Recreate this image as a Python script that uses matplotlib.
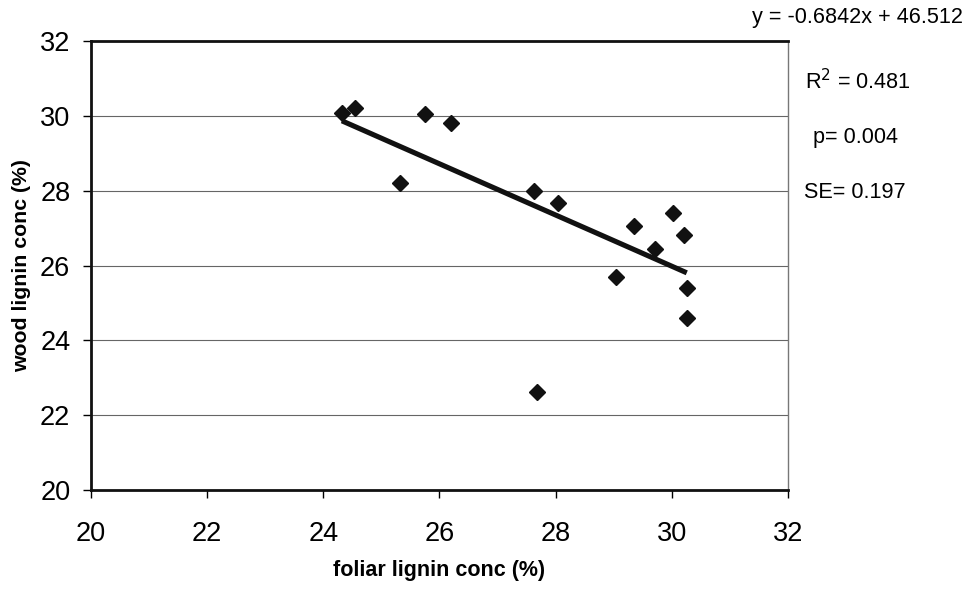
import numpy as np
import matplotlib.pyplot as plt

plt.rcParams['font.family'] = ['Liberation Sans', 'DejaVu Sans']

# foliar vs wood lignin concentration (%)
foliar = [24.32, 24.55, 25.32, 25.75, 26.2, 27.63, 28.04, 27.68,
          29.35, 30.03, 30.22, 29.72, 29.04, 30.26, 30.26]
wood = [30.07, 30.21, 28.2, 30.05, 29.81, 27.99, 27.67, 22.62,
        27.05, 27.4, 26.81, 26.44, 25.69, 25.4, 24.6]

slope = -0.6842
intercept = 46.512
stats = ['y = -0.6842x + 46.512', 'R$^2$ = 0.481', 'p= 0.004', 'SE= 0.197']

fig = plt.figure(figsize=(9.69, 5.89), dpi=100)
ax = fig.add_axes([0.094, 0.168, 0.719, 0.762])

for yv in range(22, 32, 2):
    ax.axhline(yv, color='#666666', lw=0.8, zorder=1)

xl = np.array([min(foliar), max(foliar)])
ax.plot(xl, slope * xl + intercept, color='#111111', lw=3.7, zorder=2,
        solid_capstyle='butt')
ax.plot(foliar, wood, 'D', color='#111111', markersize=7.8, zorder=3)

ax.set_xlim(20, 32)
ax.set_ylim(20, 32)
ax.set_xticks(range(20, 33, 2))
ax.set_yticks(range(20, 33, 2))
ax.tick_params(labelsize=19.5, length=6, width=1, direction='out')
ax.tick_params(axis='x', pad=16)
ax.tick_params(axis='y', pad=9)

for s in ['left', 'bottom', 'top']:
    ax.spines[s].set_linewidth(2)
    ax.spines[s].set_color('#111111')
ax.spines['right'].set_linewidth(1)
ax.spines['right'].set_color('#777777')

ax.set_xlabel('foliar lignin conc (%)', fontsize=15.5, fontweight='bold', labelpad=10)
ax.set_ylabel('wood lignin conc (%)', fontsize=15.3, fontweight='bold', labelpad=6)

fig.text(857 / 969, 1 - 18 / 589, stats[0], fontsize=15.6, ha='center', va='center')
fig.text(805 / 969, 1 - 82 / 589, stats[1], fontsize=15.6, ha='left', va='center')
fig.text(813 / 969, 1 - 138 / 589, stats[2], fontsize=15.6, ha='left', va='center')
fig.text(804 / 969, 1 - 192 / 589, stats[3], fontsize=15.6, ha='left', va='center')

fig.savefig('out.png', dpi=100)
